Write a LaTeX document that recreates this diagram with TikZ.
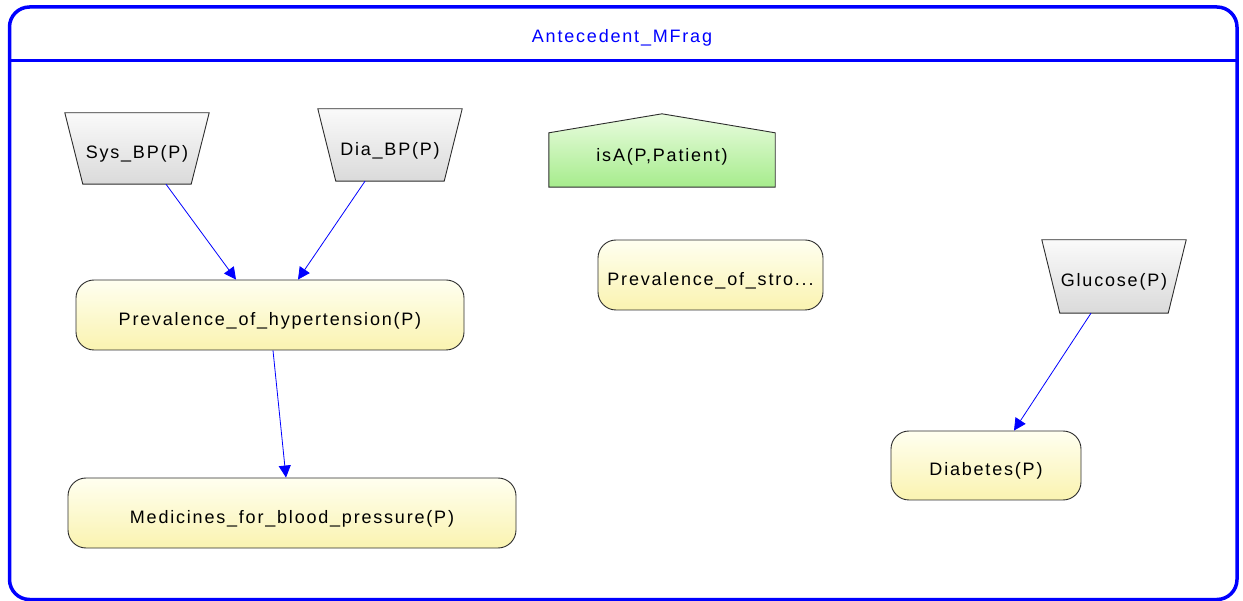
\documentclass[tikz,border=0pt]{standalone}
\usepackage{fontspec}
\setmainfont{Liberation Sans}[LetterSpace=10]
\usetikzlibrary{arrows.meta,backgrounds}

\definecolor{fblue}{RGB}{0,0,255}
\definecolor{edge}{RGB}{45,45,45}
\definecolor{yeltop}{RGB}{255,255,240}
\definecolor{yelbot}{RGB}{250,243,176}
\definecolor{graytop}{RGB}{250,250,250}
\definecolor{graybot}{RGB}{218,218,218}
\definecolor{grntop}{RGB}{234,252,224}
\definecolor{grnbot}{RGB}{166,236,140}

\tikzset{
  lowtext/.style={text height=21pt, text depth=0pt},
  resnode/.style={rectangle, rounded corners=18pt, draw=edge, line width=0.9pt,
    top color=yeltop, bottom color=yelbot, inner sep=0pt, lowtext},
  box/.style={rectangle, inner sep=0pt, lowtext},
  inputfill/.style={draw=edge, line width=0.9pt, top color=graytop, bottom color=graybot},
  ctxfill/.style={draw=edge, line width=0.9pt, top color=grntop, bottom color=grnbot},
  link/.style={draw=fblue, line width=0.8pt, -{Triangle[length=12pt,width=12pt]}},
  frame/.style={draw=fblue, line width=3.5pt},
}

\begin{document}
\begin{tikzpicture}[x=1pt, y=-1pt, font=\fontsize{18}{22}\selectfont]
  \useasboundingbox (0,0) rectangle (1243,601);

  % MFrag frame with its title bar
  \draw[frame, rounded corners=20pt] (9.5,7) rectangle (1237,599.5);
  \draw[frame] (9.5,60.5) -- (1237,60.5);
  \node[text=fblue] (title) at (622,37.5) {Antecedent\_MFrag};

  % input nodes (trapezia) and the context node (pentagon)
  \node[box, minimum width=144pt, minimum height=71pt] (sys) at (137,148.5) {Sys\_BP(P)};
  \node[box, minimum width=144pt, minimum height=72pt] (dia) at (390,145) {Dia\_BP(P)};
  \node[box, minimum width=144pt, minimum height=73pt] (glu) at (1114,276.5) {Glucose(P)};
  \node[box, text height=13pt, text depth=10pt, minimum width=226pt, minimum height=54pt] (isa) at (662,160) {isA(P,Patient)};

  \begin{scope}[on background layer]
    \foreach \n in {sys,dia,glu}
      \path[inputfill] (\n.north west) -- (\n.north east)
        -- ([xshift=-18pt]\n.south east) -- ([xshift=18pt]\n.south west) -- cycle;
    \path[ctxfill] (isa.south west) -- (isa.north west) -- ([yshift=19pt]isa.north)
      -- (isa.north east) -- (isa.south east) -- cycle;
  \end{scope}

  % resident nodes
  \node[resnode, minimum width=388pt, minimum height=70pt] (hyp) at (270,315) {Prevalence\_of\_hypertension(P)};
  \node[resnode, minimum width=448pt, minimum height=70pt] (med) at (292,513) {Medicines\_for\_blood\_pressure(P)};
  \node[resnode, minimum width=225pt, minimum height=70pt] (stro) at (710.5,275) {Prevalence\_of\_stro...};
  \node[resnode, minimum width=190pt, minimum height=69pt] (diab) at (986,465.5) {Diabetes(P)};

  % dependencies
  \draw[link] ([xshift=29pt]sys.south) -- ([xshift=-34pt]hyp.north);
  \draw[link] ([xshift=-25pt]dia.south) -- ([xshift=28pt]hyp.north);
  \draw[link] ([xshift=3pt]hyp.south) -- ([xshift=-6pt]med.north);
  \draw[link] ([xshift=-23pt]glu.south) -- ([xshift=28pt]diab.north);
\end{tikzpicture}
\end{document}
